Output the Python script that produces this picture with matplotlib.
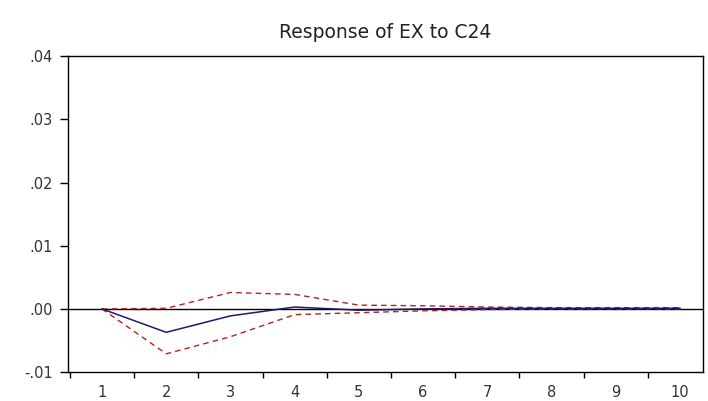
import matplotlib
matplotlib.use('Agg')
import matplotlib.pyplot as plt
from matplotlib.ticker import FixedLocator, FuncFormatter

plt.rcParams['font.family'] = ['DejaVu Sans']

periods = [1, 2, 3, 4, 5, 6, 7, 8, 9, 10]
response = [0.0, -0.0037, -0.0011, 0.0003, -0.0002, 0.0, 0.0001, 0.0001, 0.0001, 0.0001]
upper = [0.0, 0.0001, 0.0026, 0.0023, 0.0006, 0.0005, 0.0003, 0.0002, 0.0002, 0.0002]
lower = [0.0, -0.0071, -0.0044, -0.0009, -0.0006, -0.0003, -0.0001, 0.0, 0.0, 0.0]
y_ticks = [-0.01, 0.0, 0.01, 0.02, 0.03, 0.04]

fig = plt.figure(figsize=(7.08, 4.01), dpi=100)
ax = fig.add_axes([0.096, 0.072, 0.897, 0.788])

ax.axhline(0, color='black', lw=1.0, zorder=1)
ax.plot(periods, upper, color='#b22222', lw=1.0, ls=(0, (4, 3)), zorder=2)
ax.plot(periods, lower, color='#b22222', lw=1.0, ls=(0, (4, 3)), zorder=2)
ax.plot(periods, response, color='#1a1a6e', lw=1.1, zorder=3)

ax.set_xlim(0.47, 10.36)
ax.set_ylim(-0.01, 0.04)

ax.xaxis.set_major_locator(FixedLocator(periods))
ax.xaxis.set_minor_locator(FixedLocator([p - 0.5 for p in periods]))
ax.tick_params(axis='x', which='major', length=0, labelsize=10.5, pad=9, labelcolor='#333333')
ax.tick_params(axis='x', which='minor', length=4, width=1.0, direction='out')
ax.set_yticks(y_ticks)
ax.yaxis.set_major_formatter(FuncFormatter(lambda v, p: ('%.2f' % v).replace('0.', '.', 1)))
ax.tick_params(axis='y', length=6, width=1.0, direction='out', labelsize=10.5, pad=5,
               labelcolor='#333333')

for s in ax.spines.values():
    s.set_linewidth(1.0)

ax.set_title('Response of EX to C24', fontsize=13.5, pad=13, color='#222222')

fig.savefig('out.png', dpi=100)
